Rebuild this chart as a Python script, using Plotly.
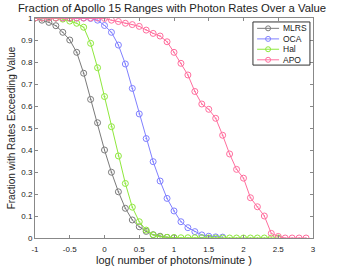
import plotly.graph_objects as go

x_mlrs = [-1.0, -0.9, -0.8, -0.7, -0.6, -0.5, -0.4, -0.3, -0.2, -0.1, 0.0,
          0.1, 0.2, 0.3, 0.4, 0.5, 0.6, 0.7, 0.8, 0.9, 1.0]
y_mlrs = [1.0, 0.99, 0.98, 0.965, 0.935, 0.90, 0.844, 0.749, 0.63, 0.524, 0.40,
          0.299, 0.21, 0.135, 0.082, 0.051, 0.03, 0.015, 0.008, 0.003, 0.001]

x_oca = [-1.0, -0.9, -0.8, -0.7, -0.6, -0.5, -0.4, -0.3, -0.2, -0.1, 0.0,
         0.1, 0.2, 0.3, 0.4, 0.5, 0.6, 0.7, 0.8, 0.9, 1.0,
         1.1, 1.2, 1.3, 1.4, 1.5, 1.6, 1.7]
y_oca = [1.0, 1.0, 1.0, 1.0, 1.0, 1.0, 1.0, 1.0, 0.998, 0.99, 0.966,
         0.935, 0.877, 0.791, 0.68, 0.564, 0.452, 0.347, 0.259, 0.18, 0.123,
         0.074, 0.047, 0.029, 0.014, 0.008, 0.005, 0.004]

x_hal = [-1.0, -0.9, -0.8, -0.7, -0.6, -0.5, -0.4, -0.3, -0.2, -0.1, 0.0,
         0.1, 0.2, 0.3, 0.4, 0.5, 0.6, 0.7, 0.8, 0.9, 1.0,
         1.1, 1.2, 1.3, 1.4, 1.5, 1.6, 1.7, 1.8, 1.9, 2.0,
         2.1, 2.2, 2.3, 2.4, 2.5]
y_hal = [1.0, 1.0, 1.0, 1.0, 0.995, 0.986, 0.976, 0.958, 0.885, 0.774, 0.643,
         0.506, 0.373, 0.248, 0.14, 0.074, 0.036, 0.014, 0.005, 0.003, 0.002,
         0.001, 0.001, 0.001, 0.001, 0.0, 0.0, 0.0, 0.0, 0.0, 0.0,
         0.0, 0.0, 0.0, 0.0, 0.0]

x_apo = [-1.0, -0.9, -0.8, -0.7, -0.6, -0.5, -0.4, -0.3, -0.2, -0.1, 0.0,
         0.1, 0.2, 0.3, 0.4, 0.5, 0.6, 0.7, 0.8, 0.9, 1.0,
         1.1, 1.2, 1.3, 1.4, 1.5, 1.6, 1.7, 1.8, 1.9, 2.0,
         2.1, 2.2, 2.3, 2.4, 2.5, 2.6, 2.7, 2.8, 2.9]
y_apo = [1.0, 1.0, 1.0, 1.0, 1.0, 1.0, 1.0, 1.0, 1.0, 1.0, 0.998,
         0.99, 0.984, 0.976, 0.97, 0.962, 0.945, 0.93, 0.918, 0.892, 0.844,
         0.794, 0.741, 0.666, 0.609, 0.585, 0.544, 0.467, 0.382, 0.312, 0.272,
         0.183, 0.142, 0.10, 0.021, 0.007, 0.0, 0.0, 0.0, 0.0]

series_names = ["MLRS", "OCA", "Hal", "APO"]
series_x = [x_mlrs, x_oca, x_hal, x_apo]
series_y = [y_mlrs, y_oca, y_hal, y_apo]
series_colors = ["#7a7a7a", "#8080ff", "#8ee83c", "#ff6e9e"]

x_ticks = [-1, -0.5, 0, 0.5, 1, 1.5, 2, 2.5, 3]
x_ticklabels = ["-1", "-0.5", "0", "0.5", "1", "1.5", "2", "2.5", "3"]
y_ticks = [0, 0.1, 0.2, 0.3, 0.4, 0.5, 0.6, 0.7, 0.8, 0.9, 1]
y_ticklabels = ["0", "0.1", "0.2", "0.3", "0.4", "0.5", "0.6", "0.7", "0.8", "0.9", "1"]

fig = go.Figure()
for name, xs, ys, col in zip(series_names, series_x, series_y, series_colors):
    fig.add_trace(go.Scatter(
        x=xs, y=ys, name=name, mode="lines+markers", showlegend=False,
        line=dict(color=col, width=1),
        marker=dict(symbol="circle-open-dot", size=6, color=col, line=dict(width=1, color=col)),
    ))

# Legend box drawn as layout decoration (MATLAB-style compact legend)
shapes = [dict(type="rect", xref="paper", yref="paper", x0=0.784, x1=0.989, y0=0.786, y1=0.982,
               line=dict(color="#333333", width=1), fillcolor="white", layer="above")]
annotations = []
legend_rows = [0.953, 0.905, 0.858, 0.810]
for name, col, yy in zip(series_names, series_colors, legend_rows):
    shapes.append(dict(type="line", xref="paper", yref="paper", x0=0.799, x1=0.878, y0=yy, y1=yy,
                       line=dict(color=col, width=1), layer="above"))
    shapes.append(dict(type="circle", xref="paper", yref="paper", xsizemode="pixel", ysizemode="pixel",
                       xanchor=0.8385, yanchor=yy, x0=-2.5, x1=2.5, y0=-2.5, y1=2.5,
                       line=dict(color=col, width=1), fillcolor="rgba(0,0,0,0)", layer="above"))
    annotations.append(dict(text=name, xref="paper", yref="paper", x=0.885, y=yy,
                            xanchor="left", yanchor="middle", showarrow=False,
                            font=dict(size=8.5, color="#222222")))

axis_common = dict(
    showline=True, linecolor="#888888", linewidth=1, mirror="ticks",
    ticks="inside", ticklen=3, tickcolor="#888888",
    showgrid=False, zeroline=False, automargin=False,
    tickfont=dict(size=8, color="#222222", family="Liberation Sans"),
)

fig.update_layout(
    width=344, height=266,
    margin=dict(l=35, r=31, t=18, b=28),
    paper_bgcolor="white", plot_bgcolor="white",
    font=dict(family="Liberation Sans", color="#222222"),
    title=dict(text="Fraction of Apollo 15 Ranges with Photon Rates Over a Value",
               x=0.5, xanchor="center", y=0.97, yanchor="middle", automargin=False,
               font=dict(size=11.3, color="#222222")),
    xaxis=dict(range=[-1, 3], tickvals=x_ticks, ticktext=x_ticklabels,
               ticklabelstandoff=3,
               title=dict(text="log( number of photons/minute )", font=dict(size=11), standoff=1),
               **axis_common),
    yaxis=dict(range=[0, 1], tickvals=y_ticks, ticktext=y_ticklabels,
               title=dict(text="Fraction with Rates Exceeding Value", font=dict(size=10), standoff=3),
               **axis_common),
    shapes=shapes,
    annotations=annotations,
    showlegend=False,
)

fig.write_html("out.html", config={"displayModeBar": False},
               post_script="document.body.style.margin='0';document.body.style.overflow='hidden';")
